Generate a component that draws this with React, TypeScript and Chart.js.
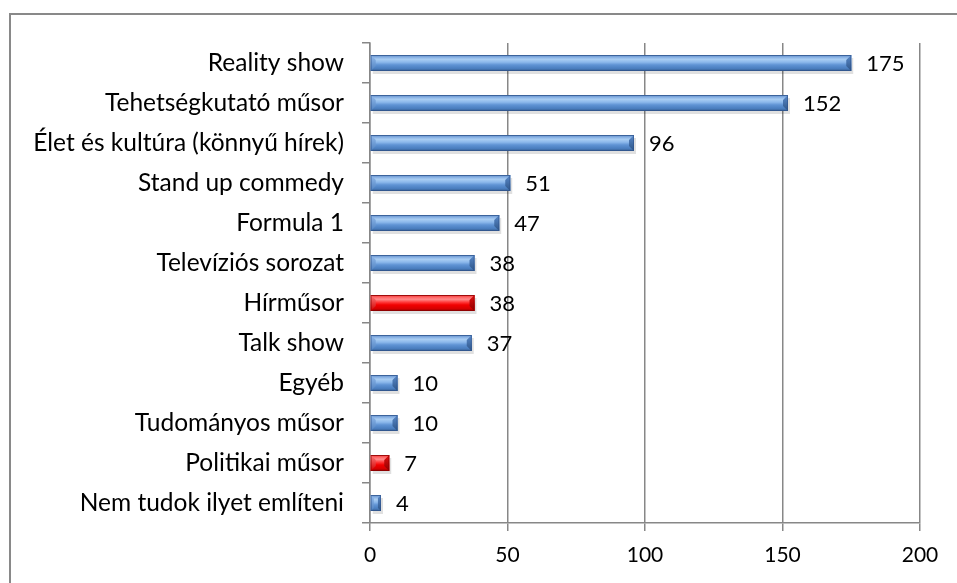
import React, { useEffect, useRef } from 'react';
import { Chart, registerables } from 'chart.js';

Chart.register(...registerables);

const categories = [
  'Reality show',
  'Tehetségkutató műsor',
  'Élet és kultúra (könnyű hírek)',
  'Stand up commedy',
  'Formula 1',
  'Televíziós sorozat',
  'Hírműsor',
  'Talk show',
  'Egyéb',
  'Tudományos műsor',
  'Politikai műsor',
  'Nem tudok ilyet említeni',
];
const values = [175, 152, 96, 51, 47, 38, 38, 37, 10, 10, 7, 4];
const highlightedCategories = ['Hírműsor', 'Politikai műsor'];
const xTicks = [0, 50, 100, 150, 200];

const FONT = 'Lato';
const GRID = '#878787';

const BLUE_STOPS: [number, string][] = [
  [0, '#3C69A3'],
  [0.1, '#7EA8DE'],
  [0.27, '#A9CDF3'],
  [0.45, '#8CB8EB'],
  [0.62, '#5F93D4'],
  [0.85, '#4A7DBE'],
  [1, '#345C8E'],
];
const RED_STOPS: [number, string][] = [
  [0, '#B00000'],
  [0.1, '#FF5A5A'],
  [0.27, '#FF8A8A'],
  [0.45, '#FF3A3A'],
  [0.62, '#F20000'],
  [0.85, '#D60000'],
  [1, '#960000'],
];

const isHighlighted = (i: number) => highlightedCategories.includes(categories[i]);

const framePlugin = {
  id: 'frame',
  beforeDraw(chart: any) {
    const ctx = chart.ctx;
    ctx.save();
    ctx.strokeStyle = '#898989';
    ctx.lineWidth = 2;
    ctx.strokeRect(10, 14, 3000, 3000);
    ctx.restore();
  },
};

const bevelPlugin = {
  id: 'bevel',
  beforeDatasetsDraw(chart: any) {
    const ctx = chart.ctx;
    const meta = chart.getDatasetMeta(0);
    ctx.save();
    meta.data.forEach((el: any) => {
      const p = el.getProps(['x', 'y', 'base', 'height'], true);
      const top = p.y - p.height / 2;
      const w = p.x - p.base;
      ctx.fillStyle = 'rgba(0,0,0,0.12)';
      ctx.fillRect(p.base + 2, top + 3, w, p.height);
    });
    ctx.restore();
  },
  afterDatasetsDraw(chart: any) {
    const ctx = chart.ctx;
    const meta = chart.getDatasetMeta(0);
    ctx.save();
    meta.data.forEach((el: any, i: number) => {
      const p = el.getProps(['x', 'y', 'base', 'height'], true);
      const h = p.height;
      const top = p.y - h / 2;
      const bottom = p.y + h / 2;
      const left = p.base;
      const right = p.x;
      const w = right - left;
      const red = isHighlighted(i);
      const stops = red ? RED_STOPS : BLUE_STOPS;
      const g = ctx.createLinearGradient(0, top, 0, bottom);
      stops.forEach(([o, c]) => g.addColorStop(o, c));
      ctx.fillStyle = g;
      ctx.fillRect(left, top, w, h);
      const b = Math.min(5, w * 0.3, h / 2);
      const gr = ctx.createLinearGradient(0, top, 0, bottom);
      gr.addColorStop(0, red ? '#E21010' : '#5A8ACB');
      gr.addColorStop(1, red ? '#8E0000' : '#2E5587');
      ctx.beginPath();
      ctx.moveTo(right, top);
      ctx.lineTo(right, bottom);
      ctx.lineTo(right - b, bottom - b);
      ctx.lineTo(right - b, top + b);
      ctx.closePath();
      ctx.fillStyle = gr;
      ctx.fill();
      const gl = ctx.createLinearGradient(0, top, 0, bottom);
      gl.addColorStop(0, red ? '#FF7A7A' : '#93BBEC');
      gl.addColorStop(1, red ? '#D00000' : '#4E80C0');
      ctx.beginPath();
      ctx.moveTo(left, top);
      ctx.lineTo(left + b, top + b);
      ctx.lineTo(left + b, bottom - b);
      ctx.lineTo(left, bottom);
      ctx.closePath();
      ctx.fillStyle = gl;
      ctx.fill();
      ctx.strokeStyle = red ? 'rgba(130,0,0,0.7)' : 'rgba(45,80,135,0.7)';
      ctx.lineWidth = 0.8;
      ctx.strokeRect(left + 0.4, top + 0.4, w - 0.8, h - 0.8);
    });
    ctx.restore();
  },
  afterDraw(chart: any) {
    const ctx = chart.ctx;
    const meta = chart.getDatasetMeta(0);
    ctx.save();
    ctx.font = `22px ${FONT}`;
    ctx.fillStyle = '#000';
    ctx.textAlign = 'left';
    ctx.textBaseline = 'middle';
    meta.data.forEach((el: any, i: number) => {
      const p = el.getProps(['x', 'y'], true);
      ctx.fillText(String(values[i]), p.x + 15, p.y + 1);
    });
    ctx.restore();
  },
};

export default function App() {
  const ref = useRef<HTMLCanvasElement>(null);
  useEffect(() => {
    document.body.style.margin = '0';
    const chart = new Chart(ref.current!, {
      type: 'bar',
      data: {
        labels: categories,
        datasets: [
          {
            data: values,
            backgroundColor: categories.map((_, i) => (isHighlighted(i) ? '#F00000' : '#5F93D4')),
            borderWidth: 0,
            barPercentage: 0.4,
            categoryPercentage: 1,
          },
        ],
      },
      options: {
        indexAxis: 'y',
        animation: false,
        responsive: false,
        devicePixelRatio: 1,
        layout: { padding: { left: 0, top: 43, right: 37, bottom: 0 } },
        plugins: { legend: { display: false }, tooltip: { enabled: false } },
        scales: {
          x: {
            min: xTicks[0],
            max: xTicks[xTicks.length - 1],
            afterBuildTicks: (scale: any) => {
              scale.ticks = xTicks.map((v) => ({ value: v }));
            },
            afterFit: (scale: any) => {
              scale.height = 60;
            },
            grid: { color: GRID, lineWidth: 1.5, tickLength: 8, drawOnChartArea: true },
            border: { color: GRID, width: 1.5 },
            ticks: { color: '#000', font: { family: FONT, size: 21 }, padding: 12 },
          },
          y: {
            afterFit: (scale: any) => {
              scale.width = 370;
            },
            grid: { color: GRID, lineWidth: 1.5, tickLength: 8, drawOnChartArea: false, offset: true },
            border: { color: GRID, width: 1.5 },
            ticks: { color: '#000', font: { family: FONT, size: 24.5 }, padding: 18 },
          },
        },
      },
      plugins: [framePlugin, bevelPlugin],
    });
    return () => chart.destroy();
  }, []);
  return (
    <div style={{ position: 'absolute', left: 0, top: 0, width: 957, height: 583 }}>
      <canvas ref={ref} width={957} height={583} />
    </div>
  );
}
